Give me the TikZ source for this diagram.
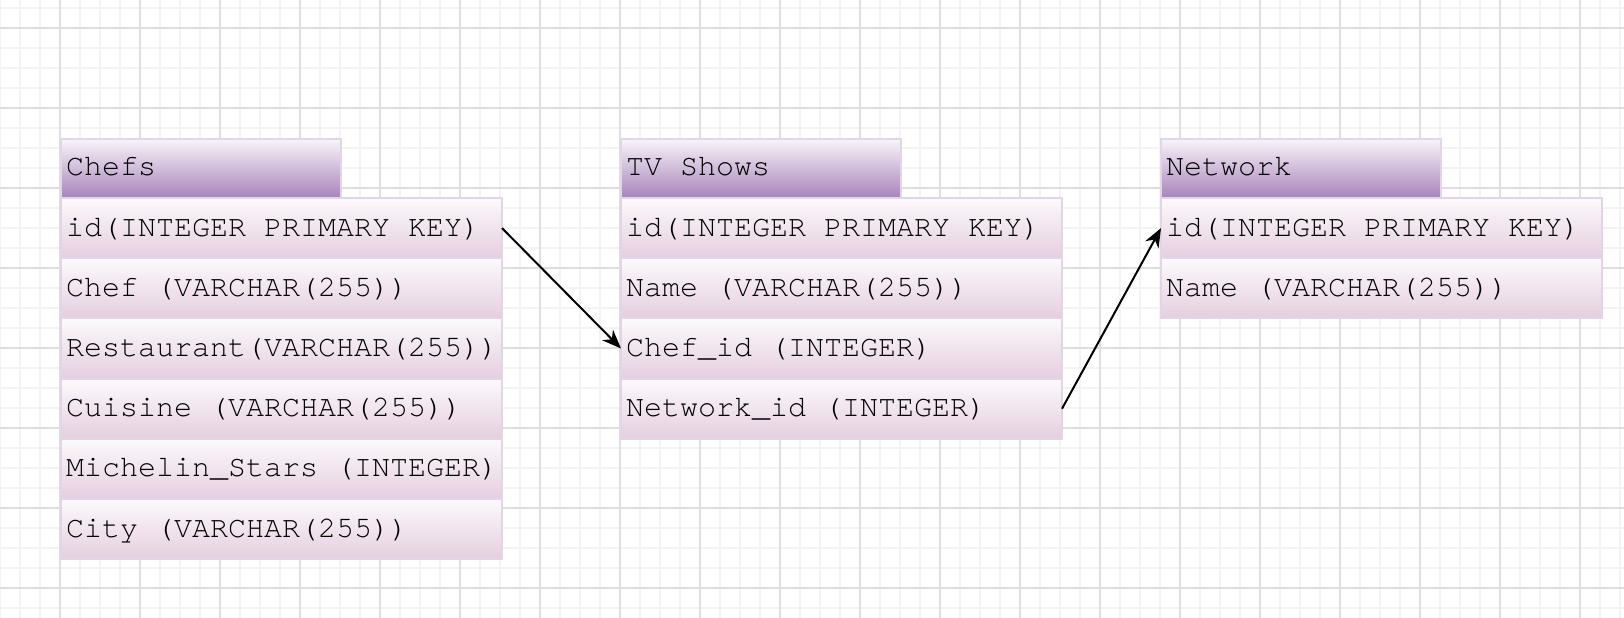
\documentclass[tikz,border=0pt]{standalone}
\usepackage{fontspec}
\setmonofont{TeX Gyre Cursor}
\usetikzlibrary{arrows.meta}
\newcommand\msp{\hspace*{0.6em}}
\definecolor{gridminor}{HTML}{F3F3F3}
\definecolor{gridmajor}{HTML}{DEDEDE}
\definecolor{tblborder}{HTML}{E1D5E7}
\definecolor{hdtop}{HTML}{F8F4F9}
\definecolor{hdbot}{HTML}{A783BB}
\definecolor{rowtop}{HTML}{FCFAFC}
\definecolor{rowbot}{HTML}{E5CEDF}
\begin{document}
\begin{tikzpicture}[x=1pt,y=-1pt,
  cellbase/.style={draw=tblborder, line width=2pt, anchor=north west, outer sep=0pt,
    inner xsep=5pt, inner ysep=0pt, align=left,
    font=\ttfamily\fontsize{30pt}{30pt}\selectfont},
  tblhead/.style={cellbase, top color=hdtop, bottom color=hdbot,
    minimum width=280pt, text width=270pt, minimum height=59pt,
    text height=20pt, text depth=7pt},
  tblrow/.style={cellbase, top color=rowtop, bottom color=rowbot,
    minimum width=441pt, text width=431pt, minimum height=60.2pt,
    text height=22pt, text depth=6pt},
  conn/.style={draw=black, line width=2pt, -{Stealth[length=19pt,width=15pt,inset=6pt]}}]
\useasboundingbox (0,0) rectangle (1624,618);
\fill[white] (0,0) rectangle (1624,618);
% grid
\foreach \x in {0,20,...,1620} \draw[gridminor, line width=1.5pt] (\x,0) -- (\x,618);
\foreach \y in {8,28,...,608} \draw[gridminor, line width=1.5pt] (0,\y) -- (1624,\y);
\foreach \x in {60,140,...,1580} \draw[gridmajor, line width=1.2pt] (\x,0) -- (\x,618);
\foreach \y in {28,108,...,588} \draw[gridmajor, line width=1.2pt] (0,\y) -- (1624,\y);

% Chefs
\node[tblhead] (chefs) at (61,139) {Chefs};
\node[tblrow] (c1) at (61,198.0) {id(INTEGER\msp PRIMARY\msp KEY)};
\node[tblrow] (c2) at (61,258.2) {Chef\msp(VARCHAR(255))};
\node[tblrow] (c3) at (61,318.4) {Restaurant(VARCHAR(255))};
\node[tblrow] (c4) at (61,378.6) {Cuisine\msp(VARCHAR(255))};
\node[tblrow] (c5) at (61,438.8) {Michelin\_Stars\msp(INTEGER)};
\node[tblrow] (c6) at (61,499.0) {City\msp(VARCHAR(255))};

% TV Shows
\node[tblhead] (tv) at (621,139) {TV\msp Shows};
\node[tblrow] (t1) at (621,198.0) {id(INTEGER\msp PRIMARY\msp KEY)};
\node[tblrow] (t2) at (621,258.2) {Name\msp(VARCHAR(255))};
\node[tblrow] (t3) at (621,318.4) {Chef\_id\msp(INTEGER)};
\node[tblrow] (t4) at (621,378.6) {Network\_id\msp(INTEGER)};

% Network
\node[tblhead] (net) at (1161,139) {Network};
\node[tblrow] (n1) at (1161,198.0) {id(INTEGER\msp PRIMARY\msp KEY)};
\node[tblrow] (n2) at (1161,258.2) {Name\msp(VARCHAR(255))};

% connectors
\draw[conn] (c1.east) -- (t3.west);
\draw[conn] (t4.east) -- (n1.west);
\end{tikzpicture}
\end{document}
